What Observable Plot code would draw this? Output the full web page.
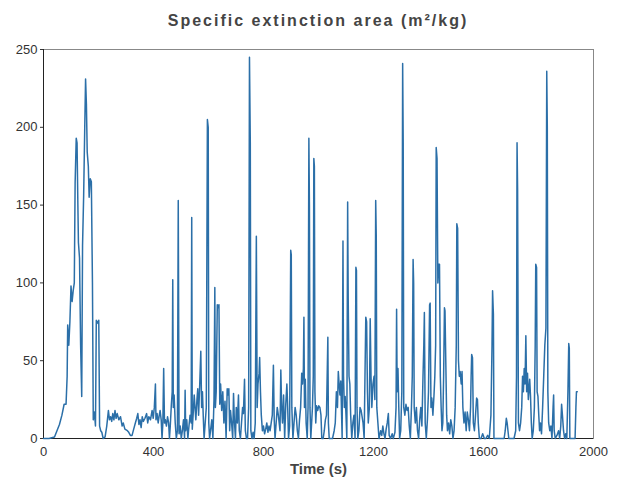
<!DOCTYPE html>
<html><head><meta charset="utf-8">
<script src="https://cdn.jsdelivr.net/npm/d3@7"></script>
<script src="https://cdn.jsdelivr.net/npm/@observablehq/plot@0.6"></script>
<style>
body{margin:0;background:#fff;font-family:"Liberation Sans",Arial,sans-serif;}
#title{height:36px;line-height:42px;text-align:center;padding-left:18px;box-sizing:border-box;width:618px;font-weight:bold;font-size:16px;letter-spacing:2px;color:#444;white-space:nowrap;overflow:visible;}
</style></head>
<body>
<div id="title">Specific extinction area (m²/kg)</div>
<div id="chart"></div>
<script>
const titleText = "Specific extinction area (m²/kg)";
const xLabel = "Time (s)";
const xTicks = [0, 400, 800, 1200, 1600, 2000];
const yTicks = [0, 50, 100, 150, 200, 250];

const time = [0,20,40,49,58,67,75,82,86,88,92,96,100,104,108,112,115,119,122,125,127,131,135,139,142,146,150,153,156,159,163,166,170,174,178,181,185,189,192,198,201,204,208,212,217,224,230,236,240,244,248,252,256,260,264,268,274,280,286,290,296,
305,310,316,322,328,334,339,343,347,351,355,359,363,369,375,379,383,389,395,399,403,407,409,413,417,421,424,428,431,434,437,440,443,447,451,455,458,461,465,468,470,472,475,479,483,487,490,493,497,501,505,509,513,515,517,521,525,529,533,537,539,541,545,548,
554,558,561,564,568,572,575,578,581,584,588,592,596,599,601,604,608,612,616,620,623,625,628,632,635,638,641,644,648,652,656,660,664,668,671,674,677,680,684,688,691,694,698,701,705,709,712,716,720,724,727,731,734,738,742,746,749,752,754,758,762,766,770,774,777,780,784,786,789,792,796,800,804,808,812,816,820,824,828,832,836,839,842,846,850,854,
860,863,866,869,873,877,881,885,888,891,895,899,901,903,907,911,915,919,923,927,931,935,939,942,945,947,949,952,955,959,962,965,967,969,972,975,978,981,983,985,987,990,993,997,1001,1005,1009,1012,1017,1021,1025,1029,1034,1036,1039,1045,1051,1057,1061,1065,1069,1072,1075,1078,1081,1084,1086,1089,1091,1094,1097,1100,1103,1106,1108,1111,1114,1117,1121,1125,1129,1133,1136,1138,1140,1143,1147,1151,1155,
1162,1166,1169,1172,1175,1178,1181,1185,1188,1191,1194,1198,1202,1205,1208,1210,1212,1216,1220,1226,1230,1234,1238,1242,1246,1250,1254,1257,1262,1268,1272,1278,1282,1284,1286,1289,1292,1295,1299,1303,1306,1308,1310,1314,1318,1322,1326,1330,1334,1338,1341,1344,1346,1348,1352,1356,1360,1364,1368,1372,1376,1380,1383,1385,1388,1392,1396,1400,1404,1406,1409,1412,1416,1420,1423,1426,1428,1431,1434,1437,1440,1443,1446,1449,1452,1455,1458,1460,
1466,1469,1473,1477,1481,1485,1489,1493,1497,1501,1503,1506,1509,1512,1515,1519,1522,1525,1529,1533,1537,1541,1545,1549,1553,1555,1557,1560,1563,1567,1571,1575,1578,1581,1585,1591,1597,1603,1609,1615,1621,1627,1631,1633,1636,1638,1645,1655,1665,1675,1679,1683,1686,1689,1692,1699,1705,1711,1717,1720,1722,1724,1727,1731,1735,1739,1742,1745,1748,1751,1754,1757,1760,1763,
1768,1771,1774,1777,1781,1785,1788,1790,1793,1795,1798,1801,1804,1807,1811,1815,1819,1823,1827,1830,1832,1834,1837,1841,1845,1849,1853,1855,1857,1861,1867,1873,1877,1881,1884,1887,1891,1895,1899,1903,1907,1910,1912,1914,1920,1927,1933,1936,1938,1941];

const sea = [0,0,1,5,9,15,22,22,40,73,60,75,98,88,95,100,164,193,190,150,126,116,60,27,124,156,200,231,215,184,175,155,167,165,100,12,17,8,76,74,76,8,5,4,0,1,8,18,12,14,11,16,12,18,13,16,12,14,8,10,6,
5,4,2,2,6,10,13,16,9,12,7,14,11,13,16,10,14,12,18,13,20,35,12,16,10,15,18,12,0,10,45,10,12,8,14,10,0,8,22,30,102,20,28,10,0,5,153,3,8,0,5,12,0,31,5,12,0,8,15,10,142,6,18,28,
12,25,32,15,34,56,20,30,14,0,10,20,205,200,10,0,6,12,0,25,97,20,30,86,84,86,22,35,18,30,10,24,0,32,28,32,5,18,10,0,29,12,0,20,10,28,5,0,10,20,16,38,5,0,0,20,245,190,5,0,4,0,10,130,20,35,42,52,30,15,5,8,3,6,10,4,8,5,10,15,47,12,0,10,20,15,
5,44,20,10,28,0,22,35,20,0,8,121,118,20,0,10,20,15,5,0,12,20,42,35,45,78,20,38,10,0,20,193,150,20,0,10,20,40,180,175,30,10,21,18,21,20,15,0,0,5,12,15,65,10,0,0,0,5,10,30,20,43,35,28,37,15,0,127,40,20,27,15,0,152,90,40,35,15,0,10,15,0,110,108,20,0,5,20,18,
10,0,40,78,75,30,10,20,77,40,20,35,40,25,153,130,20,10,0,5,2,8,3,0,6,10,16,2,0,3,0,4,20,83,30,45,20,0,5,30,241,190,20,15,22,18,20,8,0,20,40,115,100,20,10,20,5,0,12,20,8,40,60,81,10,0,12,30,86,87,20,26,15,28,40,60,187,180,100,112,112,40,20,5,10,40,84,82,
15,5,10,3,12,8,0,5,20,60,138,135,50,40,43,35,43,20,10,17,5,17,12,5,20,40,54,52,10,5,15,26,25,10,0,0,3,0,0,2,0,15,60,95,80,0,0,0,0,0,5,13,10,5,0,0,0,0,5,40,190,160,10,5,10,20,40,30,45,35,66,30,42,25,
38,27,10,0,5,20,60,112,110,30,27,15,5,10,3,20,40,60,71,236,200,30,10,5,8,0,20,28,5,0,2,5,0,8,22,15,5,0,3,0,30,61,58,0,0,0,0,20,30,30];

const data = time.map((t, i) => ({t, v: sea[i]}));

const chart = Plot.plot({
  width: 618,
  height: 449,
  marginTop: 13,
  marginBottom: 47,
  marginLeft: 43,
  marginRight: 25,
  x: {domain: [0, 2000]},
  y: {domain: [0, 250]},
  style: {fontFamily: '"Liberation Sans", Arial, sans-serif', fontSize: "13px", color: "#333", background: "#fff"},
  marks: [
    Plot.frame({stroke: "#888"}),
    Plot.ruleY([0], {stroke: "#222"}),
    Plot.ruleX([0], {stroke: "#222"}),
    Plot.axisX({ticks: xTicks, tickSize: 0, tickPadding: 8, label: null, tickFormat: d3.format("d")}),
    Plot.axisY({ticks: yTicks, tickSize: 3, tickPadding: 3, label: null, tickFormat: d3.format("d")}),
    Plot.line(data, {x: "t", y: "v", stroke: "#2b6fa8", strokeWidth: 1.5}),
    Plot.text([xLabel], {frameAnchor: "bottom", dy: 35, text: d => d, fontWeight: "bold", fontSize: 15, fill: "#444"})
  ]
});
document.getElementById("chart").appendChild(chart);
document.getElementById("title").textContent = titleText;
</script>
</body></html>
